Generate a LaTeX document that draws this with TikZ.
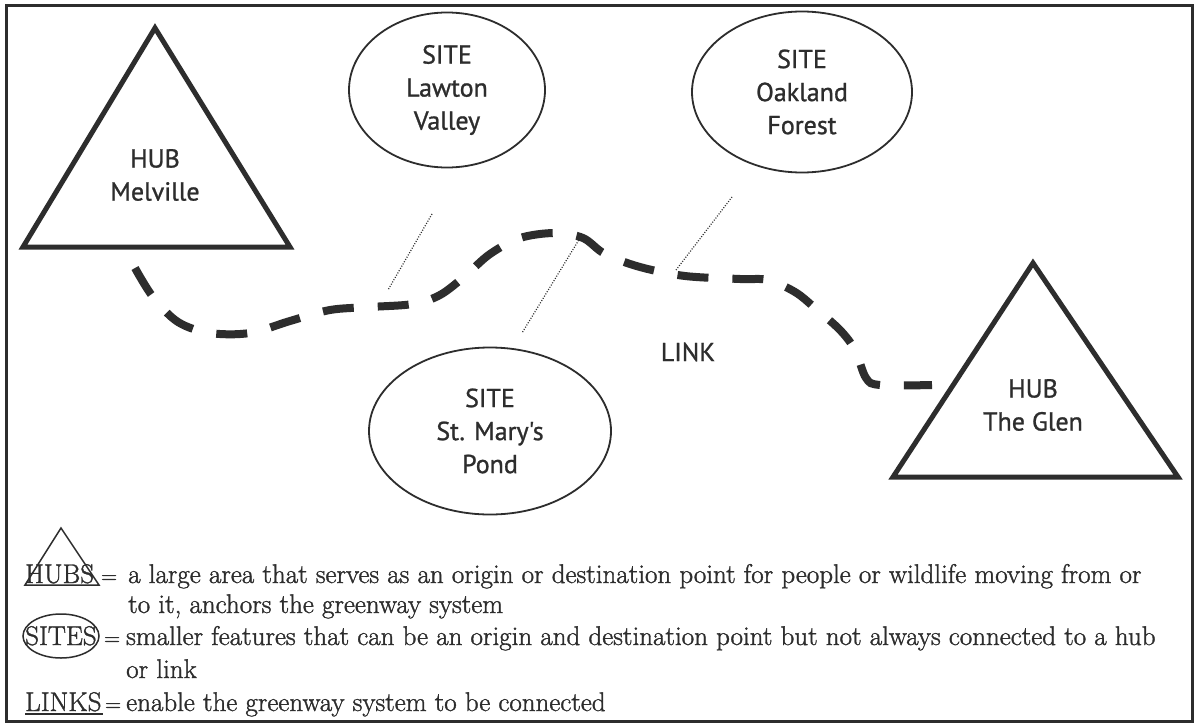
\documentclass[tikz,border=0pt]{standalone}
\usepackage{fontspec}
\newfontfamily\labelfont{PT Sans}[FakeBold=1.0]
\newfontfamily\keyfont{Latin Modern Roman}[FakeBold=1.3]
\usetikzlibrary{shapes.geometric}
\definecolor{ink}{RGB}{45,45,45}
\tikzset{
  frame/.style={draw=ink, line width=3pt},
  hub/.style={draw=ink, line width=5pt, line join=miter},
  site/.style={ellipse, draw=ink, line width=1.8pt, inner sep=0pt, align=center,
    text=ink, font=\labelfont\fontsize{26}{33}\selectfont},
  placename/.style={align=center, text=ink, inner sep=0pt,
    font=\labelfont\fontsize{26}{33}\selectfont},
  trail/.style={draw=ink, line width=8pt, dash pattern=on 31pt off 24pt},
  leader/.style={draw=ink, line width=1.2pt, dash pattern=on 1pt off 1.6pt},
  legend/.style={anchor=base west, inner sep=0pt, text=ink,
    font=\keyfont\fontsize{27}{32}\selectfont},
  equals/.style={anchor=base west, inner sep=0pt, text=ink,
    font=\keyfont\fontsize{22}{32}\selectfont},
  keymark/.style={draw=ink, line width=1.5pt},
}
\begin{document}
\begin{tikzpicture}[x=1pt,y=-1pt]
\useasboundingbox (0,0) rectangle (1196,725);
\fill[white] (0,0) rectangle (1196,725);
\draw[frame] (6,6) rectangle (1192,721);

% hub: Melville
\coordinate (mv-top) at (155,28);
\coordinate (mv-left) at (23,247);
\coordinate (mv-right) at (290,247);
\draw[hub] (mv-top) -- (mv-right) -- (mv-left) -- cycle;
\node[placename] (mv) at (155,175) {HUB\\Melville};

% hub: The Glen
\coordinate (gl-top) at (1033,263);
\coordinate (gl-left) at (893,477);
\coordinate (gl-right) at (1178,477);
\draw[hub] (gl-top) -- (gl-right) -- (gl-left) -- cycle;
\node[placename] (gl) at (1033,405) {HUB\\The Glen};

% sites
\node[site, minimum width=196pt, minimum height=155pt] (lv) at (447,90) {SITE\\Lawton\\Valley};
\node[site, minimum width=220pt, minimum height=161pt] (of) at (802,92) {SITE\\Oakland\\Forest};
\node[site, minimum width=242pt, minimum height=167pt] (sm) at (490,431) {SITE\\St. Mary's\\Pond};

% link label
\node[placename] (link) at (688,352) {LINK};

% the greenway link between the two hubs
\coordinate (trail-start) at (135,268);
\coordinate (trail-end) at (932,385);
\draw[trail] plot[smooth, tension=0.55] coordinates {
  (trail-start) (153,297) (178,322) (210,333) (250,333) (290,321) (330,310)
  (370,307) (413,304) (440,295) (465,276) (490,254) (520,238) (555,233)
  (583,238) (605,254) (640,267) (685,276) (740,279) (768,280) (795,292)
  (815,308) (840,330) (855,350) (866,378) (880,385) (trail-end)};

% leaders from sites to the link
\coordinate (lv-a) at (432,214);
\coordinate (lv-b) at (388,290);
\draw[leader] (lv-a) -- (lv-b);
\coordinate (of-a) at (732,197);
\coordinate (of-b) at (676,270);
\draw[leader] (of-a) -- (of-b);
\coordinate (sm-a) at (580,238);
\coordinate (sm-b) at (522,333);
\draw[leader] (sm-a) -- (sm-b);

% key
\node[legend] (k-hubs) at (25,583) {HUBS};
\coordinate (kt-top) at (61,528);
\coordinate (kt-left) at (25,585);
\coordinate (kt-right) at (99,585);
\draw[keymark] (kt-top) -- (kt-right) -- (kt-left) -- cycle;
\node[equals] (k-hubs-eq) at (101,583) {=};
\node[legend] (k-hubs-1) at (128,583) {a large area that serves as an origin or destination point for people or wildlife moving from or};
\node[legend] (k-hubs-2) at (128,613) {to it, anchors the greenway system};

\node[legend] (k-sites) at (25,645) {SITES};
\node[keymark, ellipse, minimum width=76pt, minimum height=44pt, inner sep=0pt] (k-ring) at (61,636) {};
\node[equals] (k-sites-eq) at (104,645) {=};
\node[legend] (k-sites-1) at (126,645) {smaller features that can be an origin and destination point but not always connected to a hub};
\node[legend] (k-sites-2) at (126,678) {or link};

\node[legend] (k-links) at (25,711) {LINKS};
\coordinate (ku-a) at (25,714);
\coordinate (ku-b) at (103,714);
\draw[draw=ink, line width=2.4pt] (ku-a) -- (ku-b);
\node[equals] (k-links-eq) at (105,711) {=};
\node[legend] (k-links-1) at (126,711) {enable the greenway system to be connected};
\end{tikzpicture}
\end{document}
